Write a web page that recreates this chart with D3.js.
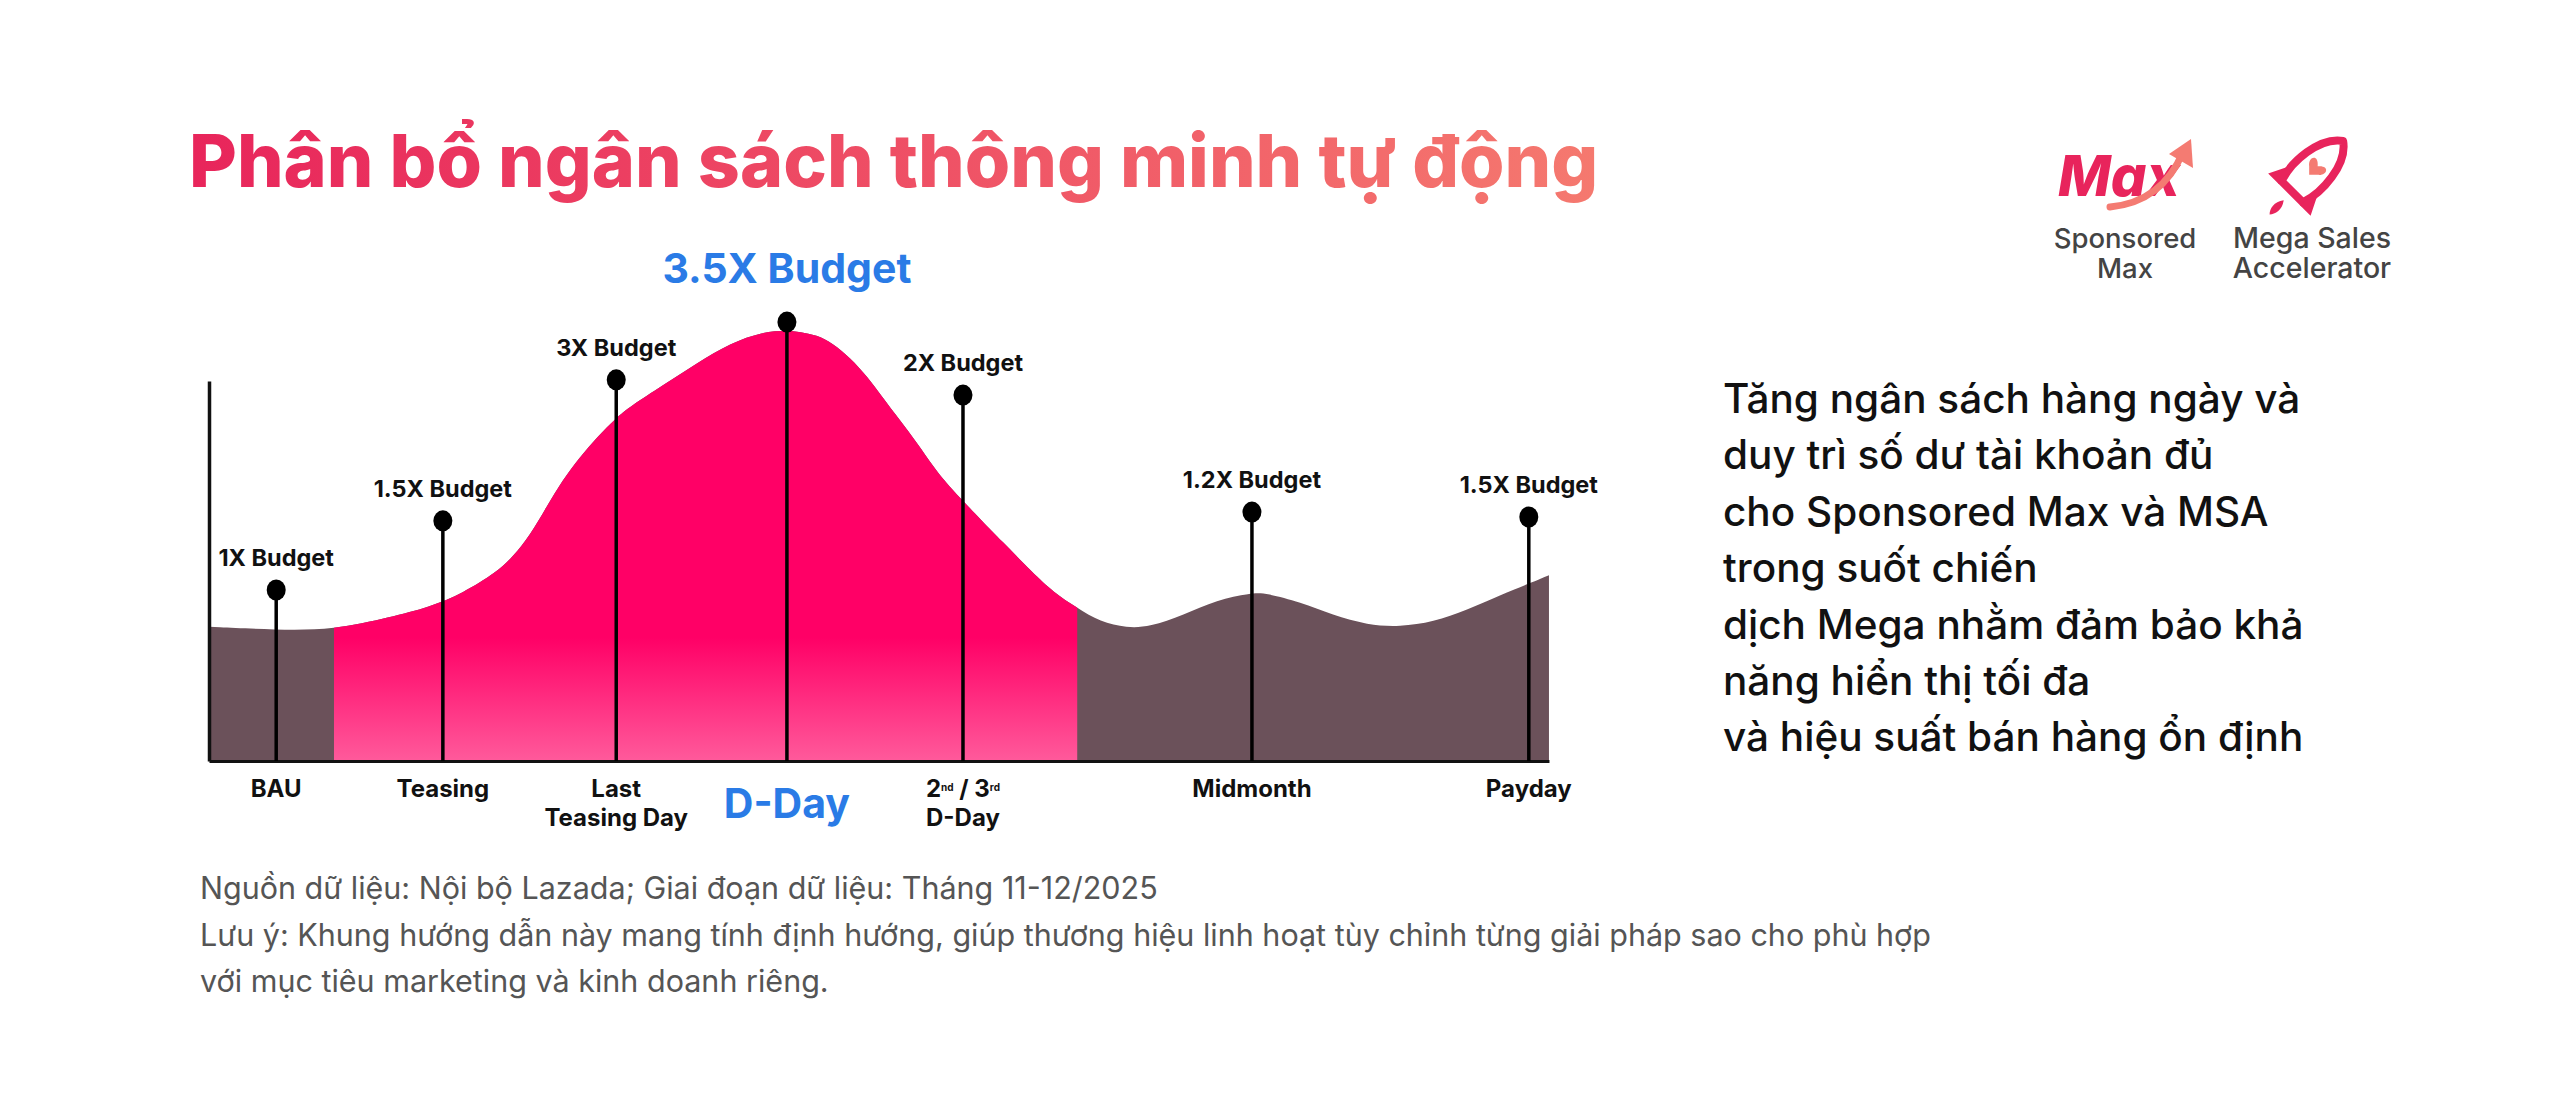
<!DOCTYPE html>
<html>
<head>
<meta charset="utf-8">
<script src="https://cdn.jsdelivr.net/npm/d3@7"></script>
<style>
  html, body { margin: 0; padding: 0; background: #fff; }
  svg { display: block; }
</style>
</head>
<body>
<div id="graphic"></div>
<script>
// chart data
const curveX = [0, 5, 9.3, 13.5, 16.4, 18.9, 21.4, 22.6, 23.9, 25.1, 26.3, 27.6, 28.9, 30.3, 31.3, 33.8, 36.3, 38.8, 41.2, 43, 44, 45.2, 46.4, 47.7, 49, 50.1, 51.4, 52.7, 53.9, 55.1, 57.6, 58.9, 61.3, 62.8, 64.6, 66.3, 68.3, 70, 72.5, 75, 77.5, 78.7, 81.2, 83.6, 86.2, 88.6, 91.1, 93.6, 96.1, 98.3, 99.7];
const curveY = [35.3, 34.5, 34.5, 37.9, 40.5, 44.2, 49.7, 53.7, 59.5, 66.8, 73.9, 80, 85.3, 90.3, 93.2, 98.9, 104.7, 110, 112.9, 113.4, 112.9, 112.1, 110, 106.1, 101.1, 95.8, 89.7, 83.7, 77.4, 72.1, 62.9, 58.2, 49.5, 44.5, 40.3, 36.6, 35, 35.3, 38.4, 42.4, 44.2, 44.2, 41.8, 38.4, 35.8, 35.3, 36.6, 39.7, 43.7, 46.8, 48.9];

// campaign phase (pink) runs between these two x positions
const phaseStart = 9.3;
const phaseEnd = 64.6;

const stages = ["BAU", "Teasing", "Last\nTeasing Day", "D-Day", "2nd / 3rd\nD-Day", "Midmonth", "Payday"];
const stageX = [5, 17.4, 30.3, 43, 56.1, 77.6, 98.2];
const budgets = ["1X Budget", "1.5X Budget", "3X Budget", "3.5X Budget", "2X Budget", "1.2X Budget", "1.5X Budget"];
const markerLevel = [45, 63.2, 100.3, 115.5, 96.3, 65.5, 64.2];
const highlight = 3; // D-Day

const title = "Phân bổ ngân sách thông minh tự động";
const noteLines = [
    "Tăng ngân sách hàng ngày và",
    "duy trì số dư tài khoản đủ",
    "cho Sponsored Max và MSA",
    "trong suốt chiến",
    "dịch Mega nhằm đảm bảo khả",
    "năng hiển thị tối đa",
    "và hiệu suất bán hàng ổn định"
];
const footLines = [
    "Nguồn dữ liệu: Nội bộ Lazada; Giai đoạn dữ liệu: Tháng 11-12/2025",
    "Lưu ý: Khung hướng dẫn này mang tính định hướng, giúp thương hiệu linh hoạt tùy chỉnh từng giải pháp sao cho phù hợp",
    "với mục tiêu marketing và kinh doanh riêng."
];

const width = 2560;
const height = 1107;
const font = "Inter, 'Noto Sans', sans-serif";

const svg = d3.select("#graphic")
    .append("svg")
    .attr("width", width)
    .attr("height", height);

const defs = svg.append("defs");

const titleGrad = defs.append("linearGradient")
    .attr("id", "titleGrad")
    .attr("gradientUnits", "userSpaceOnUse")
    .attr("x1", 189).attr("x2", 1600).attr("y1", 0).attr("y2", 0);
titleGrad.append("stop").attr("offset", 0).attr("stop-color", "#e8255b");
titleGrad.append("stop").attr("offset", 1).attr("stop-color", "#f5796f");

const x = d3.scaleLinear().domain([0, 100]).range([209, 1553]);
const y = d3.scaleLinear().domain([0, 100]).range([761, 381]);

const pinkGrad = defs.append("linearGradient")
    .attr("id", "pinkGrad")
    .attr("gradientUnits", "userSpaceOnUse")
    .attr("x1", 0).attr("x2", 0)
    .attr("y1", y(116)).attr("y2", y(0));
pinkGrad.append("stop").attr("offset", 0.72).attr("stop-color", "#ff0066");
pinkGrad.append("stop").attr("offset", 1).attr("stop-color", "#ff5a9b");

defs.append("clipPath").attr("id", "phaseClip")
    .append("rect")
    .attr("x", x(phaseStart)).attr("y", 0)
    .attr("width", x(phaseEnd) - x(phaseStart))
    .attr("height", height);

// title
svg.append("text")
    .attr("x", 189).attr("y", 187)
    .style("font-family", font)
    .style("font-weight", 800)
    .style("font-size", "73.5px")
    .attr("fill", "url(#titleGrad)")
    .text(title);

// area
const pts = curveX.map((d, i) => ({x: d, y: curveY[i]}));
const area = d3.area()
    .x(d => x(d.x))
    .y0(y(0))
    .y1(d => y(d.y))
    .curve(d3.curveBasis);

svg.append("path")
    .datum(pts)
    .attr("fill", "#6b515a")
    .attr("d", area);

svg.append("path")
    .datum(pts)
    .attr("fill", "url(#pinkGrad)")
    .attr("clip-path", "url(#phaseClip)")
    .attr("d", area);

// axes (plain lines, no ticks)
svg.append("g")
    .attr("transform", `translate(${x(0)},0)`)
    .call(d3.axisLeft(y).tickValues([]).tickSizeOuter(0))
    .select(".domain")
    .attr("stroke", "#111")
    .attr("stroke-width", 3.5);

svg.append("g")
    .attr("transform", `translate(0,${y(0)})`)
    .call(d3.axisBottom(x.copy().domain([0, 99.7]).range([209, x(99.7)])).tickValues([]).tickSizeOuter(0))
    .select(".domain")
    .attr("stroke", "#111")
    .attr("stroke-width", 3);

// stems
const stem = svg.append("g").selectAll("g")
    .data(stages)
    .enter().append("g");

stem.append("line")
    .attr("x1", (d, i) => x(stageX[i]))
    .attr("x2", (d, i) => x(stageX[i]))
    .attr("y1", (d, i) => y(markerLevel[i]))
    .attr("y2", y(0))
    .attr("stroke", "#000")
    .attr("stroke-width", 3.5);

stem.append("ellipse")
    .attr("cx", (d, i) => x(stageX[i]))
    .attr("cy", (d, i) => y(markerLevel[i]))
    .attr("rx", 9.5)
    .attr("ry", 10.5)
    .attr("fill", "#000");

// budget labels above the dots
stem.append("text")
    .attr("x", (d, i) => x(stageX[i]))
    .attr("y", (d, i) => y(markerLevel[i]) - (i === highlight ? 39 : 24))
    .attr("text-anchor", "middle")
    .style("font-family", font)
    .style("font-weight", 700)
    .style("font-size", (d, i) => i === highlight ? "41px" : "23.5px")
    .attr("fill", (d, i) => i === highlight ? "#2a7be6" : "#111")
    .text((d, i) => budgets[i]);

// stage labels under the axis
stem.append("text")
    .attr("text-anchor", "middle")
    .style("font-family", font)
    .style("font-weight", 700)
    .style("font-size", (d, i) => i === highlight ? "41px" : "24px")
    .attr("fill", (d, i) => i === highlight ? "#2a7be6" : "#111")
    .each(function(d, i) {
        const t = d3.select(this);
        const lines = d.split("\n");
        const cx = x(stageX[i]);
        const y0 = i === highlight ? 818 : 797;
        lines.forEach((line, k) => {
            const ln = t.append("tspan")
                .attr("x", cx)
                .attr("y", y0 + k * 29);
            // ordinal suffixes as superscripts
            line.split(/(\d)(nd|rd|st|th)/).filter(s => s !== undefined && s !== "").forEach(part => {
                if (/^(nd|rd|st|th)$/.test(part)) {
                    ln.append("tspan")
                        .attr("baseline-shift", "65%")
                        .style("font-size", "10px")
                        .text(part);
                } else {
                    ln.append("tspan").text(part);
                }
            });
        });
    });

// side note
svg.append("g").selectAll("text")
    .data(noteLines)
    .enter().append("text")
    .attr("x", 1723)
    .attr("y", (d, i) => 413 + i * 56.4)
    .style("font-family", font)
    .style("font-weight", 500)
    .style("font-size", "40.5px")
    .attr("fill", "#111")
    .text(d => d);

// footnote
svg.append("g").selectAll("text")
    .data(footLines)
    .enter().append("text")
    .attr("x", 200)
    .attr("y", (d, i) => [899, 946, 992][i])
    .style("font-family", font)
    .style("font-size", "30.5px")
    .attr("fill", "#555")
    .text(d => d);

// logos
const logo = svg.append("g");
logo.append("text")
    .attr("x", 2058).attr("y", 196)
    .style("font-family", font)
    .style("font-weight", 800)
    .style("font-style", "italic")
    .style("font-size", "56px")
    .attr("fill", "#e8245c")
    .text("Max");
logo.append("path")
    .attr("d", "M2110,207 Q2162,202 2183,152")
    .attr("fill", "none")
    .attr("stroke", "#f47b72")
    .attr("stroke-width", 7)
    .attr("stroke-linecap", "round");
logo.append("path")
    .attr("d", "M2191,139 L2193,168 L2169,154 Z")
    .attr("fill", "#f47b72");

const rocket = logo.append("g")
    .attr("transform", "translate(2312,172) rotate(45)");
rocket.append("path")
    .attr("d", "M0,-44 C20,-30 22,8 15,28 L-15,28 C-22,8 -20,-30 0,-44 Z")
    .attr("fill", "none")
    .attr("stroke", "#e8245c")
    .attr("stroke-width", 8)
    .attr("stroke-linejoin", "round");
rocket.append("path")
    .attr("d", "M-17,6 L-30,32 L-15,32 Z M17,6 L30,32 L15,32 Z")
    .attr("fill", "#e8245c");
rocket.append("path")
    .attr("d", "M0,40 C-6,48 -4,56 0,60 C4,56 6,48 0,40 Z")
    .attr("fill", "#e8245c");
rocket.append("path")
    .attr("d", "M0,-8 C-8,-18 -14,-8 -6,-2 L0,4 L6,-2 C14,-8 8,-18 0,-8 Z")
    .attr("fill", "#f47b72");

const logoText = [["Sponsored", "Max"], ["Mega Sales", "Accelerator"]];
const logoX = [2125, 2312];
const logoSize = [27.5, 28.5];
logoText.forEach((lines, j) => {
    lines.forEach((t, k) => {
        logo.append("text")
            .attr("x", logoX[j])
            .attr("y", 248 + k * 30)
            .attr("text-anchor", "middle")
            .style("font-family", font)
            .style("font-weight", 500)
            .style("font-size", logoSize[j] + "px")
            .attr("fill", "#444")
            .text(t);
    });
});
</script>
</body>
</html>
